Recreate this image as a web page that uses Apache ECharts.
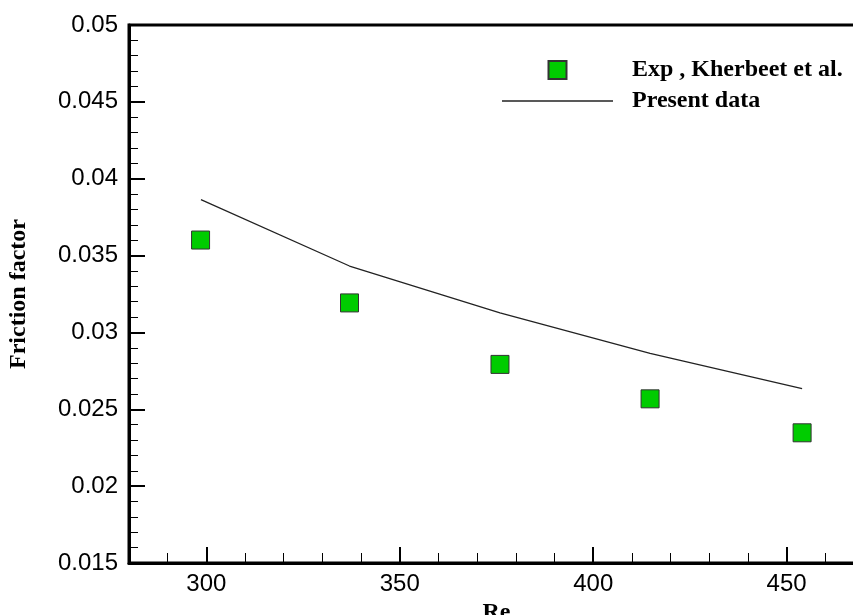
<!DOCTYPE html>
<html>
<head>
<meta charset="utf-8">
<script src="https://cdn.jsdelivr.net/npm/echarts@6/dist/echarts.min.js"></script>
<style>html,body{margin:0;padding:0;background:#fff;}#c{width:853px;height:615px;}</style>
</head>
<body>
<div id="c"></div>
<script>
var expRe = [298.5, 337.0, 375.9, 414.7, 454.0];
var expF = [0.03601, 0.03192, 0.02792, 0.02568, 0.02347];
var presRe = [298.6, 337.0, 375.9, 414.7, 454.0];
var presF = [0.03864, 0.03432, 0.03127, 0.02863, 0.02635];
var xMajorTicks = [300, 350, 400, 450];
var expName = 'Exp , Kherbeet et al.';
var presName = 'Present data';

function pairs(a, b) { return a.map(function (v, i) { return [v, b[i]]; }); }

var chart = echarts.init(document.getElementById('c'), null, {renderer: 'canvas'});
var numFont = {fontFamily: 'Liberation Sans, Arial, sans-serif', fontSize: 24, color: '#000'};
var titleFont = {fontFamily: 'Liberation Serif, Times New Roman, serif', fontWeight: 'bold', fontSize: 24, color: '#000'};
chart.setOption({
  animation: false,
  backgroundColor: '#fff',
  grid: {left: 129, top: 25, width: 735, height: 538, show: true, borderColor: '#000', borderWidth: 3, outerBoundsMode: 'none', containLabel: false},
  legend: {
    orient: 'vertical', left: 497, top: 53, itemWidth: 111, itemHeight: 18, itemGap: 7,
    data: [{name: expName, icon: 'path://M0 0H10V10H0Z'}, {name: presName, icon: 'path://M0 0H100V1.5H0Z'}],
    textStyle: Object.assign({padding: [0, 0, 0, 14], lineHeight: 24}, titleFont),
    selectedMode: false
  },
  xAxis: [{
    type: 'value', min: 280, max: 470, interval: 10,
    name: 'Re', nameLocation: 'middle', nameGap: 30, nameTextStyle: titleFont,
    axisLine: {show: true, lineStyle: {color: '#000', width: 3}},
    axisTick: {show: true, inside: true, length: 10, lineStyle: {color: '#000', width: 1}},
    axisLabel: Object.assign({margin: 9, formatter: function (v) { return (Math.round(v) % 50 === 0) ? String(Math.round(v)) : ''; }, showMinLabel: false, showMaxLabel: false}, numFont),
    splitLine: {show: false}
  }, {
    type: 'value', min: 280, max: 470, position: 'bottom',
    axisLine: {show: false},
    axisTick: {show: true, inside: true, length: 16, customValues: xMajorTicks, lineStyle: {color: '#000', width: 2}},
    axisLabel: {show: false},
    splitLine: {show: false}
  }],
  yAxis: {
    type: 'value', min: 0.015, max: 0.05, interval: 0.005,
    name: 'Friction factor', nameLocation: 'middle', nameGap: 98, nameRotate: 90, nameTextStyle: titleFont,
    axisLine: {show: true, lineStyle: {color: '#000', width: 3}},
    axisTick: {show: true, inside: true, length: 16, lineStyle: {color: '#000', width: 2}},
    minorTick: {show: true, splitNumber: 5, length: 9, lineStyle: {color: '#000', width: 1}},
    axisLabel: Object.assign({margin: 11, formatter: function (v) { return String(parseFloat(v.toFixed(3))); }}, numFont),
    splitLine: {show: false}
  },
  series: [{
    name: expName, type: 'scatter', symbol: 'rect', symbolSize: 18,
    itemStyle: {color: '#00cc00', borderColor: '#333', borderWidth: 1, opacity: 1},
    data: pairs(expRe, expF), z: 3
  }, {
    name: presName, type: 'line', symbol: 'none', showSymbol: false,
    lineStyle: {color: '#222', width: 1.3},
    itemStyle: {color: '#222'},
    data: pairs(presRe, presF), z: 2
  }]
});
</script>
</body>
</html>
